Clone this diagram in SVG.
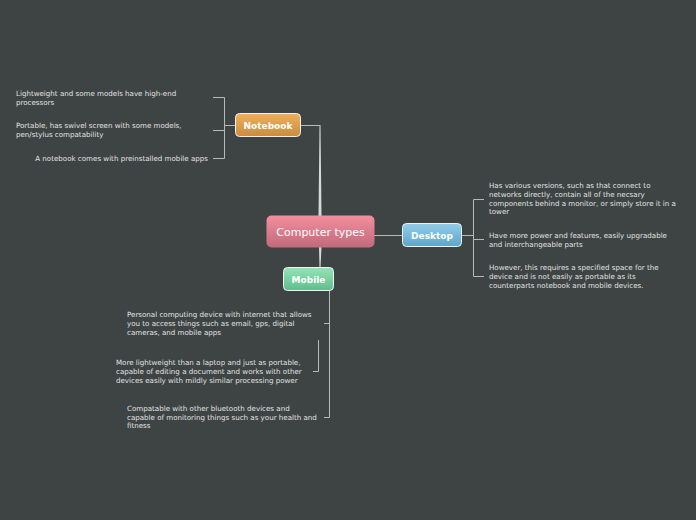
<svg xmlns="http://www.w3.org/2000/svg" width="696" height="520" viewBox="0 0 696 520">
<defs>
<linearGradient id="gC" x1="0" y1="0" x2="0" y2="1"><stop offset="0" stop-color="#f48e9e"/><stop offset="1" stop-color="#c06a7a"/></linearGradient>
<linearGradient id="gN" x1="0" y1="0" x2="0" y2="1"><stop offset="0" stop-color="#efb05c"/><stop offset="1" stop-color="#c98b40"/></linearGradient>
<linearGradient id="gD" x1="0" y1="0" x2="0" y2="1"><stop offset="0" stop-color="#92cdea"/><stop offset="1" stop-color="#5ea5c9"/></linearGradient>
<linearGradient id="gM" x1="0" y1="0" x2="0" y2="1"><stop offset="0" stop-color="#95e4b6"/><stop offset="1" stop-color="#5fbd8b"/></linearGradient>
<style>
.bg{fill:#3e4444}
.ln{fill:none;stroke:#b8b8b8;stroke-width:1}
.trunk{fill:#d8d8d8}
.lbl{font-family:"DejaVu Sans",Verdana,sans-serif;font-size:7.1px;fill:#e2e2e2}
.nd{stroke:#f2f2f2;stroke-width:1}
.nt{font-family:"DejaVu Sans",Verdana,sans-serif;font-size:9px;font-weight:bold;fill:#ffffff;text-anchor:middle}
.ct{font-family:"DejaVu Sans",Verdana,sans-serif;font-size:11px;fill:#ffffff;text-anchor:middle}
</style>
</defs>
<rect class="bg" x="0" y="0" width="696" height="520"/>
<g id="connectors">
<polygon class="trunk" points="319.5,125 320.5,125 321.5,216 318.5,216"/>
<path class="ln" d="M300,125.5 H320"/>
<polygon class="trunk" points="319,247 321.5,247 320.5,268 319.5,268"/>
<path class="ln" d="M374,235.5 H403"/>
<path class="ln" d="M236,125.5 H224.5 M213,97.5 H224.5 V158.5 H213 M213,130.5 H224.5"/>
<path class="ln" d="M461,235.5 H473.5 M484,199.5 H473.5 V276.5 H484 M473.5,239.5 H484"/>
<path class="ln" d="M329.5,290 V417.5 H324 M324,323.5 H329.5 M318.5,340 V371.5 H313"/>
</g>
<g id="central">
<rect x="266.5" y="215.5" width="108" height="32" rx="5" fill="url(#gC)"/>
<text class="ct" x="320.5" y="236">Computer types</text>
</g>
<g id="notebook">
<rect class="nd" x="235.5" y="113.5" width="65" height="23" rx="4" fill="url(#gN)"/>
<text class="nt" x="268" y="128.5">Notebook</text>
</g>
<g id="desktop">
<rect class="nd" x="402.5" y="223.5" width="59" height="23" rx="4" fill="url(#gD)"/>
<text class="nt" x="432" y="238.5">Desktop</text>
</g>
<g id="mobile">
<rect class="nd" x="283.5" y="267.5" width="50" height="23" rx="4" fill="url(#gM)"/>
<text class="nt" x="308.5" y="282.5">Mobile</text>
</g>
<g id="notebook-items">
<text class="lbl" x="16" y="95.5">Lightweight and some models have high-end</text>
<text class="lbl" x="16" y="104.5">processors</text>
<text class="lbl" x="16" y="127.5">Portable, has swivel screen with some models,</text>
<text class="lbl" x="16" y="136.5">pen/stylus compatability</text>
<text class="lbl" x="208" y="160.5" text-anchor="end">A notebook comes with preinstalled mobile apps</text>
</g>
<g id="desktop-items">
<text class="lbl" x="489" y="187.5">Has various versions, such as that connect to</text>
<text class="lbl" x="489" y="196.5">networks directly, contain all of the necsary</text>
<text class="lbl" x="489" y="205.5">components behind a monitor, or simply store it in a</text>
<text class="lbl" x="489" y="213.5">tower</text>
<text class="lbl" x="489" y="237.5">Have more power and features, easily upgradable</text>
<text class="lbl" x="489" y="246.5">and interchangeable parts</text>
<text class="lbl" x="489" y="270">However, this requires a specified space for the</text>
<text class="lbl" x="489" y="279">device and is not easily as portable as its</text>
<text class="lbl" x="489" y="288">counterparts notebook and mobile devices.</text>
</g>
<g id="mobile-items">
<text class="lbl" x="127" y="316.5">Personal computing device with internet that allows</text>
<text class="lbl" x="127" y="325.5">you to access things such as email, gps, digital</text>
<text class="lbl" x="127" y="334.5">cameras, and mobile apps</text>
<text class="lbl" x="116" y="365">More lightweight than a laptop and just as portable,</text>
<text class="lbl" x="116" y="374">capable of editing a document and works with other</text>
<text class="lbl" x="116" y="383">devices easily with mildly similar processing power</text>
<text class="lbl" x="127" y="410.5">Compatable with other bluetooth devices and</text>
<text class="lbl" x="127" y="419.5">capable of monitoring things such as your health and</text>
<text class="lbl" x="127" y="427.5">fitness</text>
</g>
</svg>
